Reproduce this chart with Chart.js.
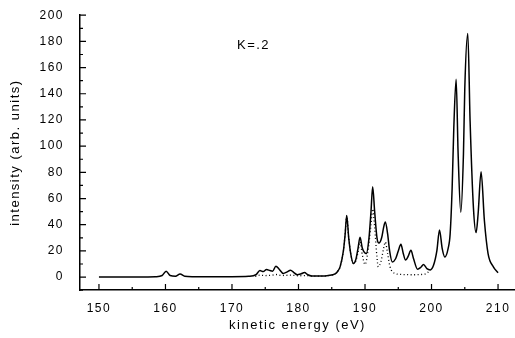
<!DOCTYPE html>
<html>
<head>
<meta charset="utf-8">
<script src="https://cdn.jsdelivr.net/npm/chart.js@4.4.1/dist/chart.umd.min.js"></script>
<style>
  html, body { margin: 0; padding: 0; background: #fff; }
  canvas { display: block; }
</style>
</head>
<body>
<canvas id="chart" width="515" height="338"></canvas>
<script>
// full spectrum (solid line)
const energy = [
  150, 156, 158.5, 159.5, 160.1, 160.7, 161.5, 162.2, 162.9, 164,
  170, 172.5, 173.6, 174.2, 174.7, 175.2, 175.7, 176.1, 176.6, 177.1,
  177.7, 178.3, 178.8, 179.3, 179.8, 180.4, 180.9, 181.4, 182, 183.5,
  184.5, 185.5, 185.9, 186.25, 186.75, 187, 187.25, 187.55, 187.85, 188.25,
  188.6, 188.95, 189.25, 189.6, 190.2, 190.6, 190.9, 191.15, 191.45, 191.8,
  192.1, 192.5, 192.8, 193.05, 193.4, 193.7, 194.1, 194.6, 195, 195.4,
  195.75, 196.1, 196.5, 196.9, 197.3, 197.9, 198.4, 198.8, 199.3, 199.8,
  200.3, 200.8, 201.2, 201.6, 202, 202.5, 202.8, 203.1, 203.35, 203.7,
  204, 204.4, 204.8, 205, 205.45, 205.8, 206.3, 206.7, 207, 207.45,
  207.95, 208.5, 209.3, 210
];
const intensity = [
  0, 0, 0.3, 1.2, 4.5, 1.2, 0.7, 2.3, 0.6, 0.3,
  0.3, 0.6, 1.8, 5, 4.2, 5.8, 5, 4.5, 8.3, 6,
  2.8, 4, 5.3, 3.5, 1.8, 2.5, 3.5, 1.8, 0.9, 0.8,
  1.2, 2.5, 4.5, 7.8, 20, 32, 47, 30, 18, 10.4,
  13, 22, 30.5, 22, 18, 30, 50, 69, 50, 30,
  26, 30, 38, 42, 33, 20, 11.6, 14, 20, 25,
  18, 13, 16, 20.5, 14, 6, 7.5, 9.6, 6.5, 5.5,
  9, 20, 36, 22, 15.4, 22, 33, 68, 114, 151,
  94, 49.5, 94, 144, 186, 119, 53, 34, 48, 80.5,
  43, 18, 7.8, 3.3
];

// partial spectrum (dotted line)
const energyPart = [
  173.5, 174.2, 175, 176, 176.6, 177.5, 178.8, 180, 181, 182,
  183.5, 184.5, 185.5, 185.9, 186.25, 186.75, 187, 187.25, 187.55, 187.85,
  188.25, 188.6, 188.95, 189.25, 189.6, 190, 190.5, 190.9, 191.15, 191.45,
  191.8, 192, 192.4, 192.8, 193.05, 193.4, 193.75, 194.5, 195.5, 197,
  198.5, 199.3, 199.8
];
const intensityPart = [
  0.5, 1.5, 1.2, 1.5, 2, 1.2, 1.5, 1, 1.2, 0.8,
  0.8, 1.2, 2.5, 4.5, 7.8, 20, 32, 47, 30, 18,
  10.4, 12, 19, 27, 17, 9.6, 22, 40, 52, 38,
  15, 7.8, 12, 22, 26.8, 18, 8, 2.8, 2, 1.8,
  2, 3, 5.5
];

const xTicks = [150, 160, 170, 180, 190, 200, 210];
const xMinor = [155, 165, 175, 185, 195, 205];
const yTicks = [0, 20, 40, 60, 80, 100, 120, 140, 160, 180, 200];
const yMinor = [-10, 10, 30, 50, 70, 90, 110, 130, 150, 170, 190];

const note = 'K=.2';
const noteAt = { x: 170.75, y: 177 };

const FONT = 'Arial, "Liberation Sans", sans-serif';

function pts(xs, ys) {
  return xs.map((v, i) => ({ x: v, y: ys[i] }));
}

// inward ticks + the K label
const decor = {
  id: 'decor',
  beforeUpdate(chart) { chart.ctx.letterSpacing = '1.5px'; },
  beforeDraw(chart) { chart.ctx.letterSpacing = '1.5px'; },
  afterDraw(chart) {
    const ctx = chart.ctx, x = chart.scales.x, y = chart.scales.y;
    const a = chart.chartArea;
    ctx.save();
    ctx.strokeStyle = '#000';
    ctx.lineWidth = 1.2;
    ctx.beginPath();
    xTicks.forEach(v => { const p = x.getPixelForValue(v); ctx.moveTo(p, a.bottom); ctx.lineTo(p, a.bottom - 6); });
    xMinor.forEach(v => { const p = x.getPixelForValue(v); ctx.moveTo(p, a.bottom); ctx.lineTo(p, a.bottom - 3); });
    yTicks.forEach(v => { const p = y.getPixelForValue(v); ctx.moveTo(a.left, p); ctx.lineTo(a.left + 6, p); });
    yMinor.forEach(v => { const p = y.getPixelForValue(v); ctx.moveTo(a.left, p); ctx.lineTo(a.left + 3, p); });
    ctx.stroke();
    ctx.fillStyle = '#000';
    ctx.font = '13px ' + FONT;
    ctx.textBaseline = 'middle';
    ctx.textAlign = 'left';
    ctx.fillText(note, x.getPixelForValue(noteAt.x), y.getPixelForValue(noteAt.y));
    ctx.restore();
  }
};

new Chart(document.getElementById('chart'), {
  type: 'line',
  data: {
    datasets: [
      {
        data: pts(energyPart, intensityPart),
        borderColor: '#000',
        borderWidth: 1.3,
        borderDash: [1, 2.5],
        pointRadius: 0,
        cubicInterpolationMode: 'monotone',
        fill: false
      },
      {
        data: pts(energy, intensity),
        borderColor: '#000',
        borderWidth: 1.5,
        pointRadius: 0,
        cubicInterpolationMode: 'monotone',
        fill: false
      }
    ]
  },
  options: {
    responsive: false,
    animation: false,
    layout: { padding: { left: 0, top: 13, right: 0, bottom: 0 } },
    plugins: { legend: { display: false }, tooltip: { enabled: false } },
    scales: {
      x: {
        type: 'linear',
        min: 147.15,
        max: 212.55,
        afterFit: s => { s.height = 48; },
        afterBuildTicks: s => { s.ticks = xTicks.map(v => ({ value: v })); },
        grid: { display: false },
        border: { display: true, color: '#000', width: 1.5 },
        ticks: { color: '#000', padding: 3, font: { family: FONT, size: 12 } },
        title: {
          display: true, text: 'kinetic energy (eV)', color: '#000',
          font: { family: FONT, size: 13 }, padding: { top: 0, bottom: 5 }
        }
      },
      y: {
        type: 'linear',
        min: -9.85,
        max: 200,
        afterFit: s => { s.width = 80; },
        afterBuildTicks: s => { s.ticks = yTicks.map(v => ({ value: v })); },
        grid: { display: false },
        border: { display: true, color: '#000', width: 1.5 },
        ticks: { color: '#000', padding: 8, font: { family: FONT, size: 12 } },
        title: {
          display: true, text: 'intensity (arb. units)', color: '#000',
          font: { family: FONT, size: 13 }, padding: { top: 8, bottom: 0 }
        }
      }
    }
  },
  plugins: [decor]
});
</script>
</body>
</html>
